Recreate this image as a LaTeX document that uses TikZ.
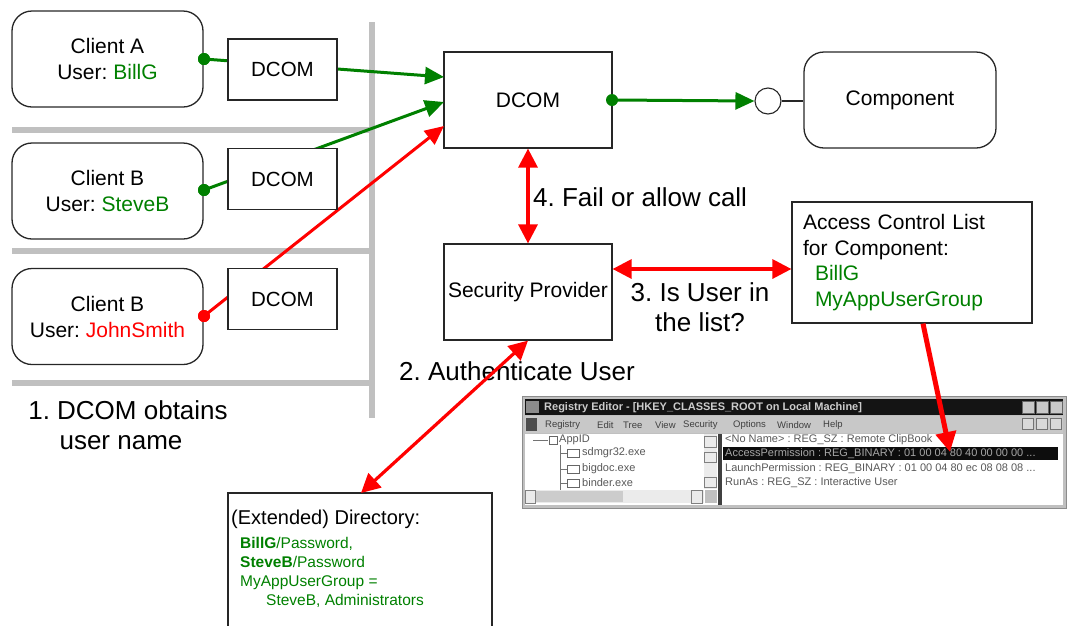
\documentclass[tikz,border=0pt]{standalone}
\usepackage{fontspec}
\setmainfont{Liberation Sans}
\usetikzlibrary{arrows.meta}
\definecolor{dgreen}{RGB}{0,128,0}
\definecolor{lgray}{RGB}{192,192,192}
\definecolor{mgray}{RGB}{200,200,200}
\newcommand{\fsz}[2]{\fontsize{#1}{#2}\selectfont}
\frenchspacing
\begin{document}
\begin{tikzpicture}[x=1pt,y=-1pt,
  client/.style={draw=black!85, line width=1.3pt, rounded corners=20pt, minimum width=191pt, minimum height=96pt, align=center, font=\fsz{21}{26}, inner sep=0pt},
  smallbox/.style={draw=black!85, line width=1.2pt, fill=white, minimum width=109pt, minimum height=61pt, font=\fsz{20.5}{24}, inner sep=0pt},
  bigbox/.style={draw=black!85, line width=1.2pt, fill=white, minimum width=168pt, minimum height=96pt, font=\fsz{21}{25}, inner sep=0pt},
  conndot/.style={circle, fill=#1, inner sep=0pt, minimum size=12pt},
  garrow/.style={draw=dgreen, line width=3pt, -{Triangle[length=19pt,width=17pt]}},
  rarrow/.style={draw=red, line width=3.2pt, {Triangle[length=19pt,width=19pt]}-{Triangle[length=19pt,width=19pt]}},
  rline/.style={draw=red, line width=3pt, -{Triangle[length=19pt,width=17pt]}},
  grayline/.style={draw=lgray, line width=6pt},
  steplabel/.style={font=\fsz{26}{30}, align=center, inner sep=0pt},
  regtext/.style={font=\fsz{11}{12}, inner sep=0pt, anchor=west, text=black!65}
]
\useasboundingbox (0,0) rectangle (1077,625);

% gray separators
\draw[grayline] (372,22) -- (372,418);
\draw[grayline] (12,130) -- (372,130);
\draw[grayline] (12,251) -- (372,251);
\draw[grayline] (12,383) -- (372,383);

% main nodes
\node[client] (ca) at (107.5,59) {Client A\\User: \textcolor{dgreen}{BillG}};
\node[client] (cb) at (107.5,191) {Client B\\User: \textcolor{dgreen}{SteveB}};
\node[client] (cj) at (107.5,316.5) {Client B\\User: \textcolor{red}{JohnSmith}};

\node[bigbox] (dcom) at (528,100) {DCOM};
\node[client, minimum width=192pt] (comp) at (900,100) {Component};
\node[draw=black!85, line width=1.1pt, circle, minimum size=26pt, inner sep=0pt, fill=white] (iface) at (768,101) {};
\draw[line width=1.1pt, black!85] (iface.east) -- (comp.west |- iface.east);

\node[bigbox] (sp) at (528,292) {Security Provider};
\node[draw=black!85, line width=1.2pt, minimum width=240pt, minimum height=121pt, text width=218pt, inner xsep=11pt, align=left, font=\fsz{21}{25.7}] (acl) at (912,262.5)
  {Access Control List\\for Component:\\\hspace*{12pt}\textcolor{dgreen}{BillG}\\\hspace*{12pt}\textcolor{dgreen}{MyAppUserGroup}};

% coordinates on the central DCOM box
\coordinate (inA) at (444,77);
\coordinate (inB) at (444,102);
\coordinate (inJ) at (444,126);

% client connectors (drawn under the small DCOM boxes)
\node[conndot=dgreen] (dA) at (204,59) {};
\node[conndot=dgreen] (dB) at (204,190) {};
\node[conndot=red] (dJ) at (204,316) {};
\draw[garrow] (dA.center) -- (inA);
\draw[garrow] (dB.center) -- (inB);
\draw[rline] (dJ.center) -- (inJ);
\node[conndot=dgreen] at (dA) {};
\node[conndot=dgreen] at (dB) {};
\node[conndot=red] at (dJ) {};

\node[smallbox] (d1) at (282.5,69.5) {DCOM};
\node[smallbox] (d2) at (282.5,179) {DCOM};
\node[smallbox] (d3) at (282.5,299) {DCOM};

% DCOM -> component
\node[conndot=dgreen] (dO) at (612,100) {};
\draw[garrow] (dO.center) -- (iface.west);

% step labels
\node[steplabel, anchor=west] (l4) at (533,197) {4. Fail or allow call};
\node[steplabel] (l3) at (700,307) {3. Is User in\\the list?};
\node[steplabel] (l2) at (517,371) {2. Authenticate User};
\node[steplabel] (l1) at (128,425) {1. DCOM obtains\\\hspace*{-14pt}user name};

% directory
\draw[black!85, line width=1.2pt] (228,640) -- (228,493) -- (492,493) -- (492,640);
\coordinate (dir) at (361,493);
\node[anchor=north west, align=left, inner sep=0pt, font=\fsz{20}{22}] (dirtitle) at (231,510) {(Extended) Directory:};
\node[anchor=north west, align=left, inner sep=0pt, font=\fsz{15.5}{19}, text=dgreen] (dirtext) at (240,537)
  {\textbf{BillG}/Password,\\\textbf{SteveB}/Password\\MyAppUserGroup =\\\hspace*{26pt}SteveB, Administrators};

% registry editor screenshot
\fill[lgray] (522,396) rectangle (1066,508);
\draw[black!45, line width=0.8pt] (522,396) rectangle (1066,508);
\fill[black!92] (525,399) rectangle (1063,415);
\fill[black!45] (526,401) rectangle (539,413);
\node[regtext, text=white!80!black, font=\fsz{11}{12}\bfseries] (rtitle) at (544,407.5) {Registry Editor - [HKEY\_CLASSES\_ROOT on Local Machine]};
\foreach \bx in {1022,1036,1050} {
  \fill[mgray] (\bx,401) rectangle (\bx+12,413);
  \draw[black!60, line width=0.5pt] (\bx,401) rectangle (\bx+12,413);
}
\fill[mgray] (525,416) rectangle (1063,433);
\fill[black!70] (526,418) rectangle (537,431);
\foreach \mx/\mt in {545/Registry,597/Edit,623/Tree,655/View,683/Security,733/Options,777/Window,823/Help} {
  \node[regtext, text=black!75, font=\fsz{9.5}{11}] at (\mx,425) {\mt};
}
\foreach \bx in {1022,1036,1050} {
  \fill[white!85!black] (\bx,418) rectangle (\bx+11,429);
  \draw[black!55, line width=0.5pt] (\bx,418) rectangle (\bx+11,429);
}
% panes
\fill[white] (525,434) rectangle (1063,505);
\fill[black!75] (718,434) rectangle (722,505);
% left pane scrollbars
\fill[black!8] (704,434) rectangle (717,489);
\draw[black!50, line width=0.5pt] (704,436) rectangle (716,447);
\draw[black!50, line width=0.5pt] (704,452) rectangle (716,462);
\draw[black!50, line width=0.5pt] (704,477) rectangle (716,487);
\fill[black!8] (525,490) rectangle (704,503);
\fill[black!20] (536,491) rectangle (623,502);
\draw[black!50, line width=0.5pt] (525,490) rectangle (535,503);
\draw[black!50, line width=0.5pt] (691,490) rectangle (702,503);
\fill[lgray] (705,490) rectangle (717,503);
% tree
\draw[black!55, line width=0.6pt] (533,440) -- (548,440);
\draw[black!55, line width=0.6pt] (560,445) -- (560,490);
\foreach \ty in {453,469,483} {
  \draw[black!55, line width=0.6pt] (560,\ty) -- (567,\ty);
  \draw[black!60, line width=0.6pt] (567,\ty-4) rectangle (579,\ty+4);
}
\draw[black!60, line width=0.6pt] (549,436) rectangle (557,444);
\node[regtext] at (559,440) {AppID};
\node[regtext] at (582,453) {sdmgr32.exe};
\node[regtext] at (582,469) {bigdoc.exe};
\node[regtext] at (582,483) {binder.exe};
% right pane
\node[regtext] at (725,440) {<No Name> : REG\_SZ : Remote ClipBook};
\fill[black!95] (723,447) rectangle (1058,460);
\node[regtext, text=white!65!black] at (725,453.5) {AccessPermission : REG\_BINARY : 01 00 04 80 40 00 00 00 ...};
\node[regtext] at (725,469) {LaunchPermission : REG\_BINARY : 01 00 04 80 ec 08 08 08 ...};
\node[regtext] at (725,483) {RunAs : REG\_SZ : Interactive User};
\coordinate (regrow) at (950,452);

% red arrows
\draw[rarrow] (sp.north) -- (dcom.south);
\draw[rarrow] ([yshift=23pt]sp.east) -- ([yshift=23pt]sp.east -| acl.west);
\draw[rarrow] (sp.south) -- (dir);
\draw[draw=red, line width=5pt, -{Triangle[length=20pt,width=20pt]}] ([xshift=11pt]acl.south) -- (regrow);
\end{tikzpicture}
\end{document}
